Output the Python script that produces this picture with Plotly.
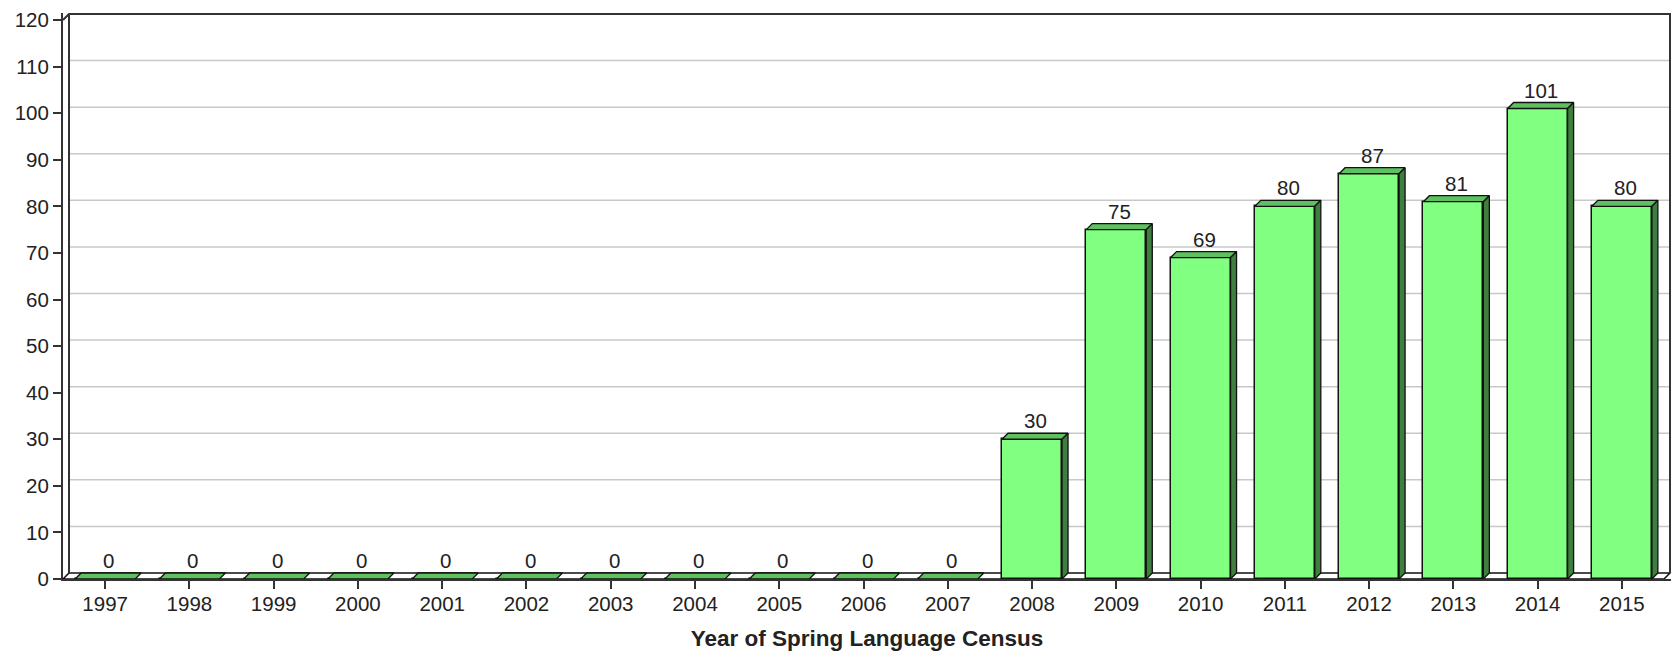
import plotly.graph_objects as go

# ---------------- data ----------------
years = ["1997", "1998", "1999", "2000", "2001", "2002", "2003", "2004", "2005", "2006",
         "2007", "2008", "2009", "2010", "2011", "2012", "2013", "2014", "2015"]
values = [0, 0, 0, 0, 0, 0, 0, 0, 0, 0, 0, 30, 75, 69, 80, 87, 81, 101, 80]
y_ticks = [0, 10, 20, 30, 40, 50, 60, 70, 80, 90, 100, 110, 120]
x_title = "Year of Spring Language Census"

# ---------------- geometry ----------------
W, H = 1671, 652
ML, MR, MT, MB = 63, 0, 13, 73
n = len(years)
px_per_cat = 1601.0 / n
py_per_unit = 559.0 / 120.0
DEPTH = 6.0
dx = DEPTH / px_per_cat
dy = DEPTH / py_per_unit
bar_w = 60.0 / px_per_cat
x_left = -0.5
x_right = x_left + (W - ML - MR) / px_per_cat
y_top = (H - MT - MB) / py_per_unit
ymax = y_ticks[-1]

FRONT = "#80FF80"
TOP = "#5FC05F"
SIDE = "#3E7E3E"
EDGE = "#111111"
AXIS = "#333333"
FONT = "Liberation Sans, Arial, sans-serif"
TXT = "#222222"

idx = list(range(n))

fig = go.Figure()

# front faces
fig.add_trace(go.Bar(
    x=idx, y=values, width=bar_w,
    marker=dict(color=FRONT, line=dict(color=EDGE, width=1.5)),
    hoverinfo="skip", showlegend=False,
))

# top faces
tx, ty = [], []
for i, v in zip(idx, values):
    l, r = i - bar_w / 2, i + bar_w / 2
    tx += [l, l + dx, r + dx, r, l, None]
    ty += [v, v + dy, v + dy, v, v, None]
fig.add_trace(go.Scatter(
    x=tx, y=ty, mode="lines", fill="toself", fillcolor=TOP,
    line=dict(color=EDGE, width=1.3), hoverinfo="skip", showlegend=False,
))

# side faces
sx, sy = [], []
for i, v in zip(idx, values):
    if v <= 0:
        continue
    r = i + bar_w / 2
    sx += [r, r + dx, r + dx, r, r, None]
    sy += [0, dy, v + dy, v, 0, None]
fig.add_trace(go.Scatter(
    x=sx, y=sy, mode="lines", fill="toself", fillcolor=SIDE,
    line=dict(color=EDGE, width=1.3), hoverinfo="skip", showlegend=False,
))

shapes = []
# back-wall grid lines
for t in y_ticks[1:-1]:
    shapes.append(dict(type="line", layer="below", xref="x", yref="y",
                       x0=x_left + dx, x1=(n - 0.5) + dx, y0=t + dy, y1=t + dy,
                       line=dict(color="#C8C8C8", width=1.5)))
# floor
shapes.append(dict(type="path", layer="below", xref="x", yref="y",
                   path=f"M {x_left},0 L {n - 0.5},0 L {n - 0.5 + dx},{dy} L {x_left + dx},{dy} Z",
                   fillcolor="white", line=dict(color=EDGE, width=1.5)))
# back wall frame
frame_pts = [(x_left, ymax), (x_left + dx, ymax + dy), (n - 0.5 + dx, ymax + dy), (n - 0.5 + dx, dy)]
shapes.append(dict(type="path", layer="below", xref="x", yref="y",
                   path="M " + " L ".join(f"{a},{b}" for a, b in frame_pts),
                   line=dict(color=AXIS, width=2)))
shapes.append(dict(type="line", layer="below", xref="x", yref="y",
                   x0=x_left + dx, x1=x_left + dx, y0=dy, y1=ymax + dy,
                   line=dict(color=AXIS, width=2)))

# value labels
annotations = []
for i, v in zip(idx, values):
    annotations.append(dict(x=i + dx * 0.6, y=v + dy, xref="x", yref="y", text=str(v),
                            showarrow=False, yanchor="bottom", yshift=-1,
                            font=dict(family=FONT, size=20.5, color=TXT)))

fig.update_layout(
    width=W, height=H,
    margin=dict(l=ML, r=MR, t=MT, b=MB, pad=0),
    plot_bgcolor="white", paper_bgcolor="white",
    bargap=0, showlegend=False,
    shapes=shapes, annotations=annotations,
    xaxis=dict(range=[x_left, x_right], tickvals=idx, ticktext=years,
               showline=True, linecolor=AXIS, linewidth=2,
               ticks="outside", ticklen=8, tickwidth=1.5, tickcolor=AXIS,
               ticklabelstandoff=-3,
               showgrid=False, zeroline=False, fixedrange=True,
               tickfont=dict(family=FONT, size=20.5, color=TXT),
               title=dict(text="<b>" + x_title + "</b>", standoff=17,
                          font=dict(family=FONT, size=22.5, color=TXT))),
    yaxis=dict(range=[0, y_top], tickvals=y_ticks,
               showline=True, linecolor=AXIS, linewidth=2,
               ticks="outside", ticklen=8, tickwidth=1.5, tickcolor=AXIS,
               showgrid=False, zeroline=False, fixedrange=True,
               tickfont=dict(family=FONT, size=20.5, color=TXT)),
)

fig.write_html("out.html")
